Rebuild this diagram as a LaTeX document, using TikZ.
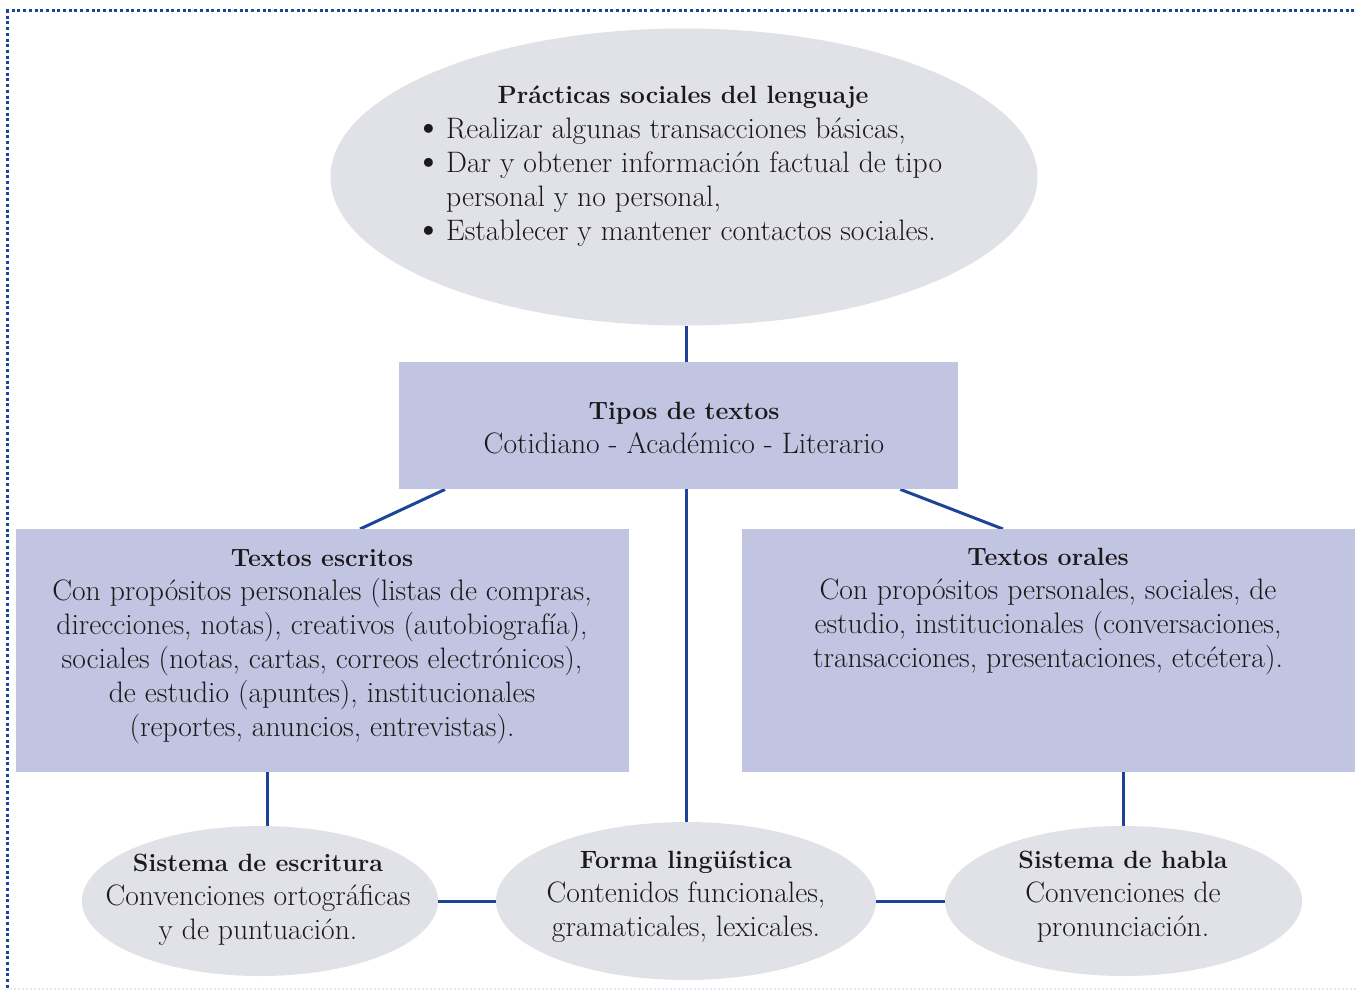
\documentclass[tikz,border=0pt]{standalone}
\usepackage{fontspec}
\usetikzlibrary{shapes.geometric,calc,backgrounds}

\definecolor{ovalgray}{HTML}{E1E1E8}
\definecolor{panelblue}{HTML}{C2C5E2}
\definecolor{linkblue}{HTML}{1D4597}
\definecolor{ink}{HTML}{1C191A}
\definecolor{framegray}{HTML}{E4E6EC}

\newcommand\bodyfont{\fontsize{29.6}{34}\selectfont}
\newcommand\headtext[1]{{\fontsize{25}{34}\selectfont\bfseries #1}}
\newcommand\bul{\makebox[24pt][l]{\hspace*{-8pt}\smash{\raisebox{-0.5pt}{\scalebox{1.35}{\textbullet}}}}}

\tikzset{
  oval/.style={ellipse, fill=ovalgray, draw=none, inner sep=0pt},
  panel/.style={rectangle, fill=panelblue, draw=none, inner sep=0pt, anchor=north west},
  txt/.style={align=center, font=\bodyfont, text=ink, inner sep=0pt},
  conn/.style={draw=linkblue, line width=3pt},
  frame/.style={draw=linkblue, line width=3pt, dash pattern=on 3pt off 2.7pt},
}

\begin{document}
\begin{tikzpicture}[x=1pt, y=-1pt]
\useasboundingbox (0,0) rectangle (1357,991);

% dotted frame
\draw[frame] (6,10) -- (1357,10);
\draw[frame] (7,10) -- (7,988);
\draw[draw=framegray, line width=1.5pt, dash pattern=on 1.5pt off 2.5pt] (10,989) -- (1357,989);

% shapes
\node[oval, minimum width=707pt, minimum height=297pt] (pract) at (684,177) {};
\node[panel, minimum width=559pt, minimum height=127pt] (tipos) at (399,362) {};
\node[panel, minimum width=613pt, minimum height=243pt] (escritos) at (16,529) {};
\node[panel, minimum width=613pt, minimum height=243pt] (orales) at (742,529) {};
\node[oval, minimum width=356pt, minimum height=150pt] (escritura) at (260,901) {};
\node[oval, minimum width=380pt, minimum height=158pt] (forma) at (686,901) {};
\node[oval, minimum width=357pt, minimum height=150pt] (habla) at (1123.5,901) {};

% connectors, behind the shapes
\coordinate (escritura-in) at ($(escritura.center)+(7,0)$);
\begin{scope}[on background layer]
  \draw[conn] (pract.south -| forma) -- (tipos.north -| forma);
  \draw[conn] (tipos.south -| forma) -- (forma);
  \draw[conn] ($(tipos.south west)+(46,0)$) -- ($(escritos.north west)+(344,0)$);
  \draw[conn] ($(tipos.south east)+(-58,0)$) -- ($(orales.north west)+(261,0)$);
  \draw[conn] (escritos.south -| escritura-in) -- (escritura-in);
  \draw[conn] (orales.south -| habla) -- (habla);
  \draw[conn] (escritura) -- (forma);
  \draw[conn] (forma) -- (habla);
\end{scope}

% texts
\node[txt] (pract-title) at (683,97) {\headtext{Prácticas sociales del lenguaje}};
\node[txt, align=left, anchor=north west] (pract-list) at (422,118) {%
  \bul Realizar algunas transacciones básicas,\\
  \bul Dar y obtener información factual de tipo\\
  \phantom{\bul}personal y no personal,\\
  \bul Establecer y mantener contactos sociales.};

\node[txt] (tipos-text) at (684,428) {\headtext{Tipos de textos}\\
  Cotidiano - Académico - Literario};

\node[txt] (escritos-text) at (322,647) {\headtext{Textos escritos}\\
  Con propósitos personales (listas de compras,\\
  direcciones, notas), creativos (autobiografía),\\
  sociales (notas, cartas, correos electrónicos),\\
  de estudio (apuntes), institucionales\\
  (reportes, anuncios, entrevistas).};

\node[txt] (orales-text) at (1048,612) {\headtext{Textos orales}\\
  Con propósitos personales, sociales, de\\
  estudio, institucionales (conversaciones,\\
  transacciones, presentaciones, etcétera).};

\node[txt] (escritura-text) at (258,900) {\headtext{Sistema de escritura}\\
  Convenciones ortográficas\\ y de puntuación.};

\node[txt] (forma-text) at (686,897) {\headtext{Forma lingüística}\\
  Contenidos funcionales,\\ gramaticales, lexicales.};

\node[txt] (habla-text) at (1123,897) {\headtext{Sistema de habla}\\
  Convenciones de\\ pronunciación.};
\end{tikzpicture}
\end{document}
